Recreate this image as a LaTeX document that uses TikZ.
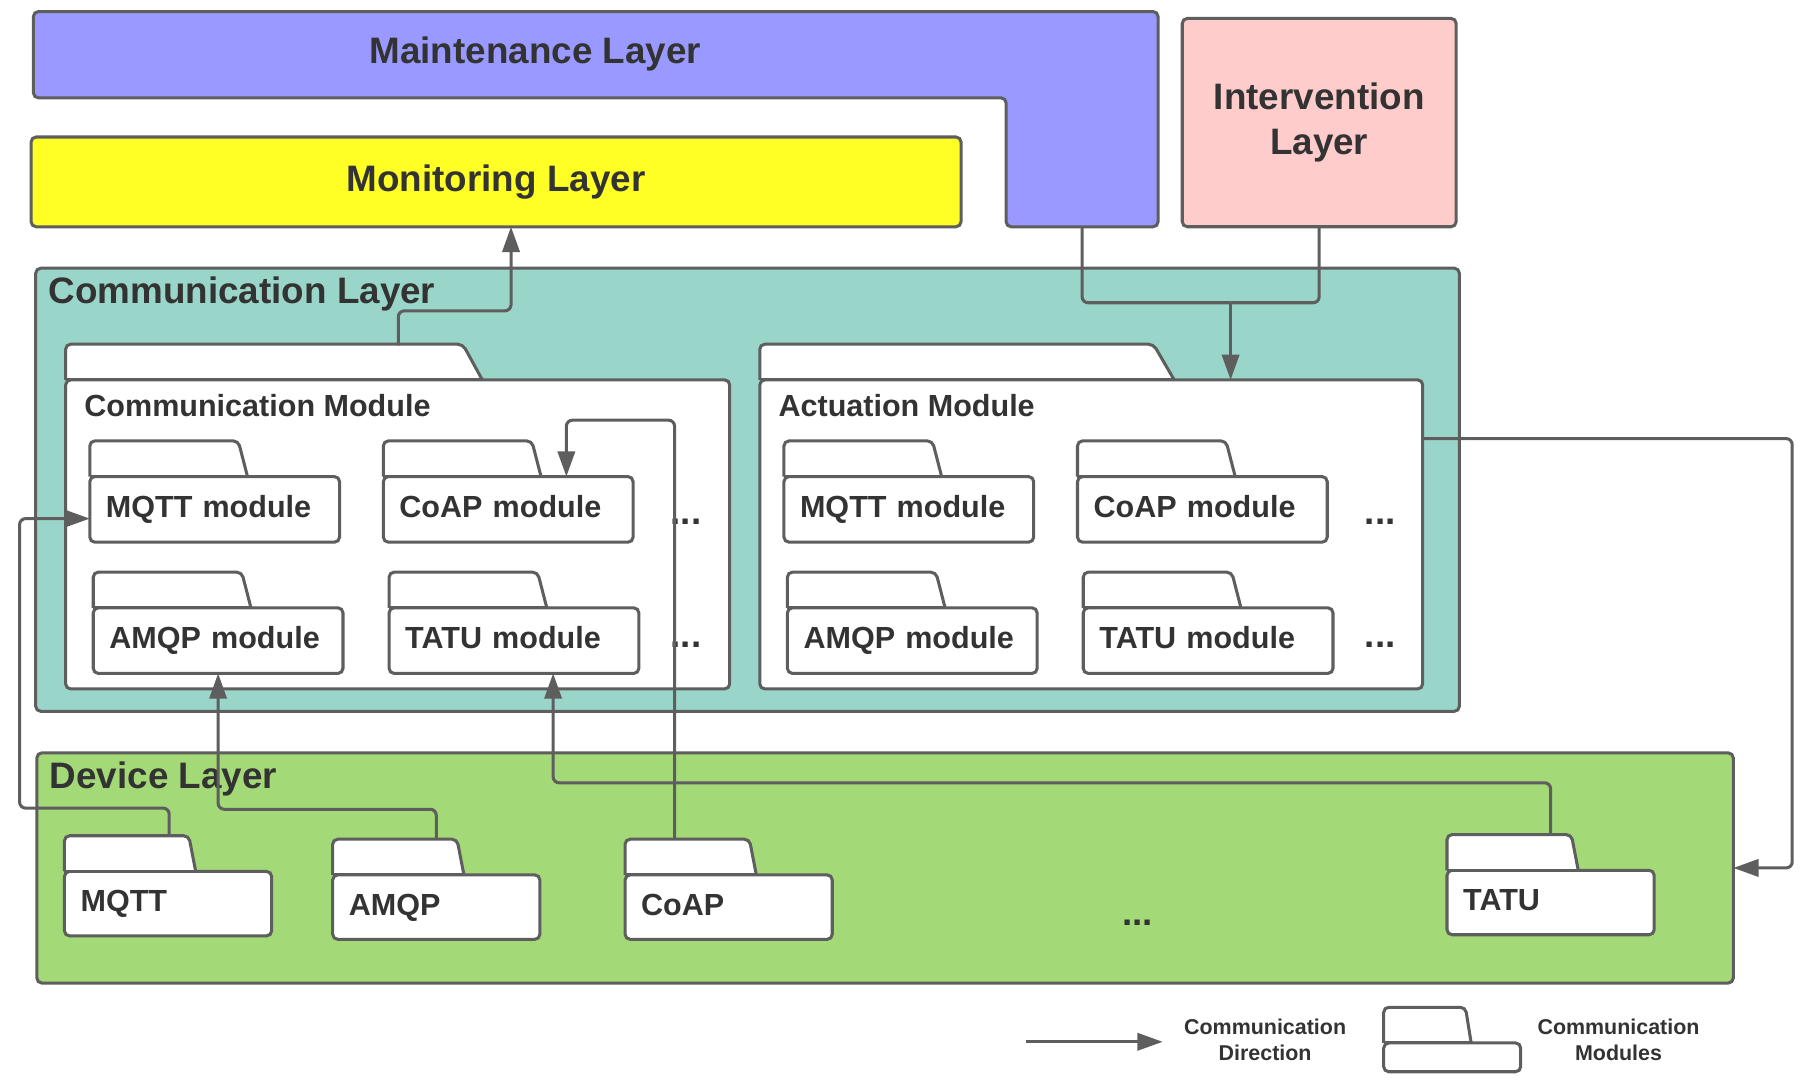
\documentclass[tikz,border=0pt]{standalone}
\usepackage{fontspec}
\setmainfont{Liberation Sans}
\usetikzlibrary{arrows.meta,calc}

\definecolor{edgegray}{HTML}{5E5E5E}
\definecolor{inkgray}{HTML}{333333}
\definecolor{maintblue}{HTML}{9999FF}
\definecolor{monyellow}{HTML}{FFFF26}
\definecolor{intpink}{HTML}{FFCCCC}
\definecolor{commteal}{HTML}{9AD5CA}
\definecolor{devgreen}{HTML}{A3D977}

% folder tab on top of a package body
\newcommand{\foldertab}[3]{%
  \draw[tabline] (#1.north west) -- ++(0,-31) -- ++(#2-#3,0) -- ++(#3,31);
  \draw[draw=edgegray] (#1.north west) -- ++(#2,0);
}

\begin{document}
\begin{tikzpicture}[x=0.02cm, y=-0.02cm, line width=1.5pt,
  box/.style={draw=edgegray, rounded corners=2.5pt, inner sep=0pt, outer sep=0pt, anchor=north west},
  layer/.style={box, text=inkgray, font=\bfseries\fontsize{18.2}{22.2}\selectfont},
  layertitle/.style={text=inkgray, inner sep=0pt, font=\bfseries\fontsize{18.2}{22.2}\selectfont},
  modtitle/.style={text=inkgray, inner sep=0pt, font=\bfseries\fontsize{15.1}{18}\selectfont},
  pkg/.style={box, fill=white, text=inkgray, align=left, inner xsep=0.28cm, text height=11pt, text depth=3pt, font=\bfseries\fontsize{15.1}{18}\selectfont},
  modbox/.style={pkg, text width=3.78cm, minimum height=1.14cm},
  devbox/.style={pkg, text width=3.04cm, minimum height=1.12cm},
  tabline/.style={draw=edgegray, fill=white, rounded corners=2.5pt},
  flow/.style={draw=edgegray, rounded corners=3pt, -{Triangle[length=0.44cm, width=0.3cm]}},
  link/.style={draw=edgegray, rounded corners=3pt},
  ellipsis/.style={text=inkgray, inner sep=0pt, font=\bfseries\fontsize{18.2}{22.2}\selectfont},
  legendtext/.style={text=inkgray, align=center, inner sep=0pt, font=\bfseries\fontsize{10.6}{13}\selectfont}]
\useasboundingbox (0,0) rectangle (1568,944);

% upper layers
\draw[draw=edgegray, fill=maintblue, rounded corners=2.5pt] (29,10) -- (1006,10) -- (1006,197) -- (874,197) -- (874,85) -- (29,85) -- cycle;
\node[layertitle] (maint) at (465,47) {Maintenance Layer};
\coordinate (maintOut) at (940,197);
\node[layer, fill=monyellow, minimum width=16.16cm, minimum height=1.56cm] (mon) at (27,119) {Monitoring Layer};
\node[layer, fill=intpink, align=center, minimum width=4.76cm, minimum height=3.62cm] (int) at (1027,16) {Intervention\\Layer};

% communication layer
\node[box, fill=commteal, minimum width=24.74cm, minimum height=7.7cm] (comm) at (31,233) {};
\node[layertitle, anchor=base west] (commTitle) at (41,264) {Communication Layer};

\node[box, fill=white, minimum width=11.54cm, minimum height=5.37cm] (cmod) at (57,330) {};
\foldertab{cmod}{362}{17}
\node[modtitle, anchor=base west] (cmodTitle) at (72,362) {Communication Module};
\node[modbox] (cmMQTT) at (78,414) {MQTT module};
\node[modbox] (cmCoAP) at (333,414) {CoAP module};
\node[modbox] (cmAMQP) at (81,528) {AMQP module};
\node[modbox] (cmTATU) at (338,528) {TATU module};
\foreach \m in {cmMQTT,cmCoAP,cmAMQP,cmTATU} {\foldertab{\m}{137}{8}}
\node[ellipsis] (cmDotsA) at (596,453) {...};
\node[ellipsis] (cmDotsB) at (596,560) {...};

\node[box, fill=white, minimum width=11.52cm, minimum height=5.37cm] (amod) at (660,330) {};
\foldertab{amod}{360}{18}
\node[modtitle, anchor=base west] (amodTitle) at (675,362) {Actuation Module};
\node[modbox] (amMQTT) at (681,414) {MQTT module};
\node[modbox] (amCoAP) at (936,414) {CoAP module};
\node[modbox] (amAMQP) at (684,528) {AMQP module};
\node[modbox] (amTATU) at (941,528) {TATU module};
\foreach \m in {amMQTT,amCoAP,amAMQP,amTATU} {\foldertab{\m}{137}{8}}
\node[ellipsis] (amDotsA) at (1199,453) {...};
\node[ellipsis] (amDotsB) at (1199,560) {...};

% device layer
\node[box, fill=devgreen, minimum width=29.48cm, minimum height=4cm] (dev) at (32,654) {};
\node[layertitle, anchor=base west] (devTitle) at (42,685) {Device Layer};
\node[devbox] (dvMQTT) at (56,757) {MQTT};
\node[devbox] (dvAMQP) at (289,760) {AMQP};
\node[devbox] (dvCoAP) at (543,760) {CoAP};
\node[devbox] (dvTATU) at (1257,756) {TATU};
\foreach \m in {dvMQTT,dvAMQP,dvCoAP,dvTATU} {\foldertab{\m}{114}{6}}
\node[ellipsis] (dvDots) at (988,802) {...};

% communication directions
\coordinate (merge) at ($(amod.north west)+(409,-67)$);
\draw[flow] ($(cmod.north west)+(289,-30)$) -- ++(0,-30) -| ($(mon.south)+(13,0)$);
\draw[link] (maintOut) |- (merge);
\draw[link] (int.south) |- (merge);
\draw[flow] (merge) -- (merge |- amod.north);
\draw[flow] ($(amod.north east)+(0,51)$) -- ++(321,0) |- (dev.east);
\draw[flow] ($(dvMQTT.north west)+(91,-31)$) |- (17,702) |- ($(cmMQTT.west)+(0,8)$);
\draw[flow] ($(dvAMQP.north west)+(90,-31)$) -- ++(0,-26) -| (cmAMQP.south);
\draw[flow] ($(dvCoAP.north west)+(43,-31)$) -- ++(0,-364) -| ($(cmCoAP.north west)+(159,0)$);
\draw[flow] ($(dvTATU.north west)+(90,-31)$) -- ++(0,-45) -| ($(cmTATU.south)+(34,0)$);

% legend
\coordinate (legStart) at (891,905);
\draw[flow] (legStart) -- ++(119,0);
\node[legendtext] (legDir) at (1099,903) {Communication\\Direction};
\node[box, fill=white, minimum width=2.38cm, minimum height=0.5cm] (legPkg) at (1202,906) {};
\foldertab{legPkg}{76}{5}
\node[legendtext] (legMod) at (1406,903) {Communication\\Modules};
\end{tikzpicture}
\end{document}
